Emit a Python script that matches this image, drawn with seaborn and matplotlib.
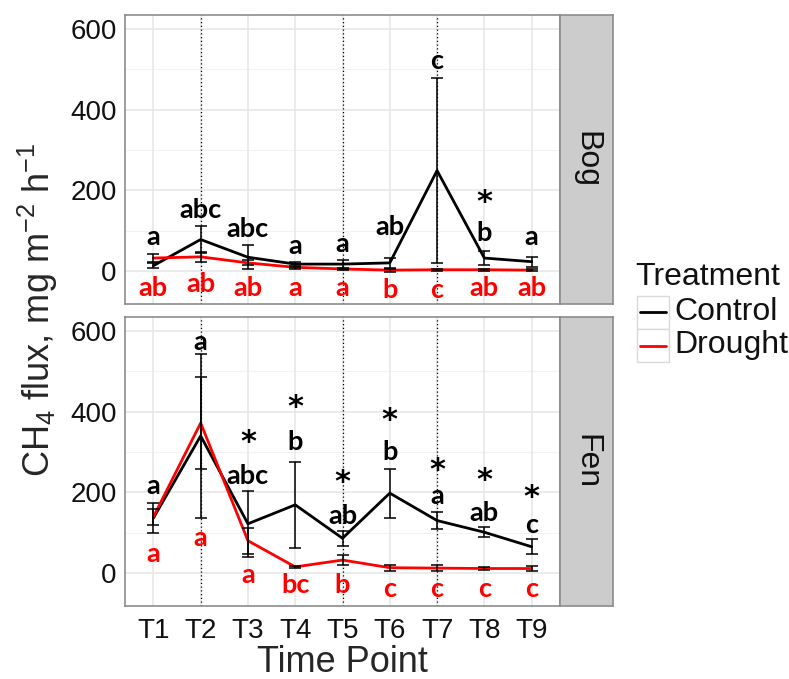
import matplotlib
matplotlib.use("Agg")
import matplotlib.pyplot as plt
from matplotlib.lines import Line2D
from matplotlib.patches import Rectangle
import pandas as pd
import seaborn as sns

# ---- data -------------------------------------------------------------
time_points = ["T1", "T2", "T3", "T4", "T5", "T6", "T7", "T8", "T9"]
sites = ["Bog", "Fen"]
treatments = ["Control", "Drought"]

bog_control_mean = [13, 78, 34, 17, 17, 20, 249, 32, 23]
bog_control_se = [6, 33, 30, 6, 11, 13, 229, 17, 12]
bog_drought_mean = [32, 35, 20, 9, 5, 2, 3, 3, 2]
bog_drought_se = [10, 13, 6, 3, 2, 4, 3, 2, 2]

fen_control_mean = [136, 340, 122, 169, 86, 198, 130, 101, 65]
fen_control_se = [38, 204, 82, 107, 19, 61, 22, 12, 18]
fen_drought_mean = [139, 372, 80, 15, 32, 13, 12, 11, 11]
fen_drought_se = [20, 115, 32, 3, 12, 7, 8, 4, 5]

# post-hoc letters (Control above, Drought below) and their heights
bog_control_letters = ["a", "abc", "abc", "a", "a", "ab", "c", "b", "a"]
bog_control_letter_y = [84, 151, 105, 63, 67, 109, 522, 95, 84]
bog_drought_letters = ["ab", "ab", "ab", "a", "a", "b", "c", "ab", "ab"]
bog_drought_letter_y = [-42, -33, -42, -42, -42, -48, -48, -42, -42]
bog_star_points = ["T8"]
bog_star_y = [195]

fen_control_letters = ["a", "a", "abc", "b", "ab", "b", "a", "ab", "c"]
fen_control_letter_y = [215, 574, 240, 325, 142, 301, 190, 148, 119]
fen_drought_letters = ["a", "a", "a", "bc", "b", "c", "c", "c", "c"]
fen_drought_letter_y = [48, 86, -6, -31, -31, -39, -39, -39, -39]
fen_star_points = ["T3", "T4", "T5", "T6", "T7", "T8", "T9"]
fen_star_y = [350, 436, 250, 405, 281, 254, 213]

marked_points = ["T2", "T5", "T7"]
y_ticks = [0, 200, 400, 600]

# ---- tidy table -------------------------------------------------------
rows = []
series = {
    ("Bog", "Control"): (bog_control_mean, bog_control_se),
    ("Bog", "Drought"): (bog_drought_mean, bog_drought_se),
    ("Fen", "Control"): (fen_control_mean, fen_control_se),
    ("Fen", "Drought"): (fen_drought_mean, fen_drought_se),
}
for (site, trt), (m, s) in series.items():
    for i, tp in enumerate(time_points):
        rows.append({"Site": site, "Treatment": trt, "TimePoint": tp,
                     "pos": i + 1, "flux": m[i], "se": s[i]})
df = pd.DataFrame(rows)

annotations = {
    "Bog": (bog_control_letters, bog_control_letter_y, bog_drought_letters,
            bog_drought_letter_y, bog_star_points, bog_star_y),
    "Fen": (fen_control_letters, fen_control_letter_y, fen_drought_letters,
            fen_drought_letter_y, fen_star_points, fen_star_y),
}

# ---- style ------------------------------------------------------------
sns.set_style("white")
plt.rcParams["font.family"] = ["Liberation Sans", "DejaVu Sans"]
plt.rcParams["mathtext.fontset"] = "custom"
plt.rcParams["mathtext.rm"] = "Liberation Sans"
plt.rcParams["mathtext.it"] = "Liberation Sans:italic"
plt.rcParams["mathtext.bf"] = "Liberation Sans:bold"

palette = {"Control": "#000000", "Drought": "#FF0000"}
border_col = "#8C8C8C"
letter_font = dict(family=["Lato", "DejaVu Sans"], fontweight="bold", fontsize=19.5)
star_font = dict(family=["DejaVu Sans"], fontweight="bold", fontsize=22)

W, H = 789, 679
fig = plt.figure(figsize=(W / 100, H / 100), dpi=100)

panel_left, panel_right = 125, 560
strip_right = 613
panel_boxes = {"Bog": (15, 304), "Fen": (317, 606)}


def fig_rect(x0, x1, top, bottom):
    return [x0 / W, 1 - bottom / H, (x1 - x0) / W, (bottom - top) / H]


for site in sites:
    top, bottom = panel_boxes[site]
    ax = fig.add_axes(fig_rect(panel_left, panel_right, top, bottom))
    sub = df[df["Site"] == site]

    # grid
    for v in y_ticks:
        ax.axhline(v, color="#E6E6E6", lw=1.1, zorder=0)
    for v in [100, 300, 500]:
        ax.axhline(v, color="#F2F2F2", lw=0.8, zorder=0)
    for p in range(1, len(time_points) + 1):
        ax.axvline(p, color="#E6E6E6", lw=1.1, zorder=0)
    for tp in marked_points:
        ax.axvline(time_points.index(tp) + 1, color="black", lw=0.9,
                   ls=(0, (1, 2)), zorder=1)

    sns.lineplot(data=sub, x="pos", y="flux", hue="Treatment",
                 hue_order=treatments, palette=palette, lw=2.0,
                 ax=ax, legend=False, zorder=3, errorbar=None)

    for trt in treatments:
        s = sub[sub["Treatment"] == trt]
        ax.errorbar(s["pos"], s["flux"], yerr=s["se"], fmt="none",
                    ecolor="black", elinewidth=1.1, capsize=4.5,
                    capthick=1.1, zorder=4)

    c_let, c_y, d_let, d_y, st_pts, st_y = annotations[site]
    for i in range(len(time_points)):
        ax.text(i + 1, c_y[i], c_let[i], ha="center", va="center",
                color="black", zorder=5, **letter_font)
        ax.text(i + 1, d_y[i], d_let[i], ha="center", va="center",
                color="#FF0000", zorder=5, **letter_font)
    for tp, yv in zip(st_pts, st_y):
        ax.annotate("*", (time_points.index(tp) + 1, yv),
                    xytext=(0, -7.5), textcoords="offset points",
                    ha="center", va="center", color="black", zorder=5,
                    **star_font)

    ax.set_xlim(0.4, 9.6)
    ax.set_ylim(-82, 635)
    ax.set_yticks(y_ticks)
    ax.set_xticks(range(1, len(time_points) + 1))
    ax.set_xlabel("")
    ax.set_ylabel("")
    ax.tick_params(axis="both", which="both", length=4, width=1,
                   color="#555555", labelsize=20, labelcolor="#111111")
    ax.tick_params(axis="y", pad=2)
    ax.tick_params(axis="x", pad=5)
    if site == "Fen":
        ax.set_xticklabels(time_points)
    else:
        ax.tick_params(axis="x", length=0, labelbottom=False)
    for sp in ax.spines.values():
        sp.set_color(border_col)
        sp.set_linewidth(1.2)

    # facet strip
    sax = fig.add_axes(fig_rect(panel_right, strip_right, top, bottom))
    sax.set_facecolor("#CCCCCC")
    sax.set_xticks([])
    sax.set_yticks([])
    for sp in sax.spines.values():
        sp.set_color(border_col)
        sp.set_linewidth(1.2)
    sax.text(0.5, 0.5, site, rotation=-90, ha="center", va="center",
             fontsize=23, color="#111111", transform=sax.transAxes)

fig.text(38 / W, 1 - 310 / H,
         r"CH$_\mathregular{4}$ flux, mg m$^\mathregular{-2}$ h$^\mathregular{-1}$",
         rotation=90, ha="center", va="center", fontsize=26)
fig.text((panel_left + panel_right) / 2 / W, 1 - 663 / H, "Time Point",
         ha="center", va="center", fontsize=26)

# legend: title, boxed keys and labels
fig.text(635 / W, 1 - 277 / H, "Treatment", ha="left", va="center",
         fontsize=23, color="#111111")
key_x0, key_x1 = 637, 669
key_tops = [296, 329]
key_h = 33
for trt, kt in zip(treatments, key_tops):
    fig.add_artist(Rectangle((key_x0 / W, 1 - (kt + key_h) / H),
                             (key_x1 - key_x0) / W, key_h / H,
                             transform=fig.transFigure, facecolor="white",
                             edgecolor="#D9D9D9", lw=1.0))
    yc = 1 - (kt + key_h / 2) / H
    fig.add_artist(Line2D([(key_x0 + 3) / W, (key_x1 - 3) / W], [yc, yc],
                          color=palette[trt], lw=2.0,
                          transform=fig.transFigure))
    fig.text(674 / W, yc, trt, ha="left", va="center", fontsize=23,
             color="#111111")

fig.savefig("out.png", dpi=100)
